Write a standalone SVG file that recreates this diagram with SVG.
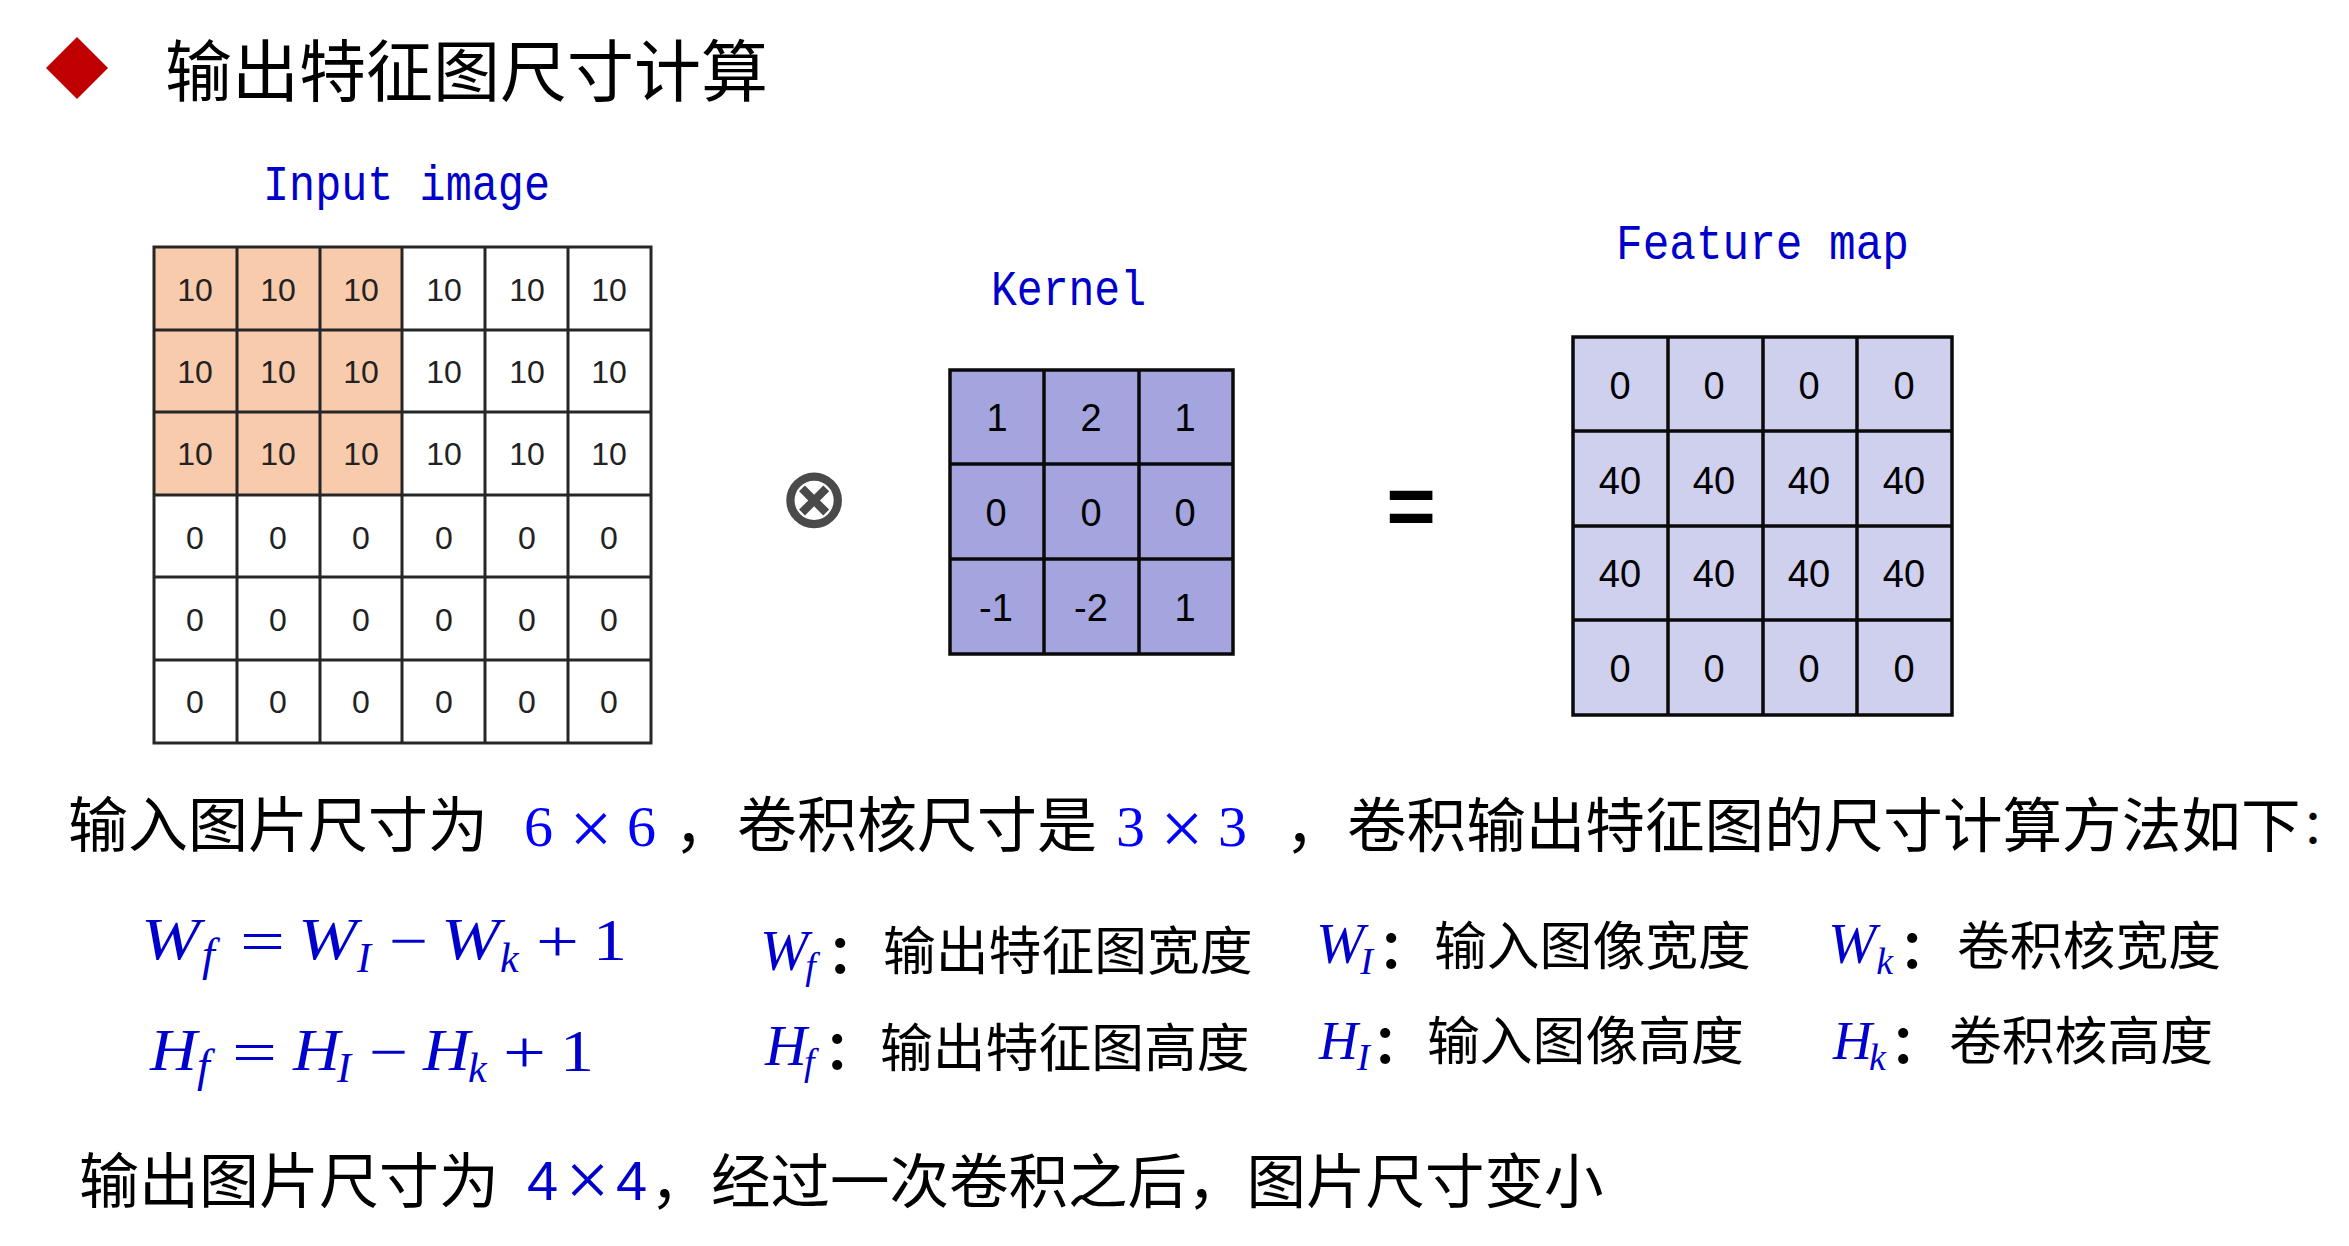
<svg xmlns="http://www.w3.org/2000/svg" width="2349" height="1246" viewBox="0 0 2349 1246">
<style>
text{font-family:"Liberation Sans",sans-serif}
.cjk{font-family:"Noto Sans CJK SC","Liberation Sans",sans-serif;fill:#000}
.t67{font-size:67px}.t60{font-size:60px}.t59{font-size:59.5px}.t52{font-size:52.8px}
.col{font-weight:700}
.lab{font-family:"Liberation Mono",monospace;font-size:50px;fill:#0000cc}
.m{font-family:"Liberation Serif",serif;font-style:italic;fill:#0000cc}
.mu{font-family:"Liberation Serif",serif;fill:#0000cc}
.b{font-size:60px}.s{font-size:42px}.sf{font-size:46px}.d{font-size:58px}.d2{font-size:54px}.ds{font-size:38px}
.num6{fill:#222;font-size:32px;text-anchor:middle}
.num{fill:#000;font-size:38px;text-anchor:middle}
.grid6{fill:none;stroke:#262626;stroke-width:3}
.grid{fill:none;stroke:#0a0a0a;stroke-width:3.5}
.blue6{font-family:"Liberation Serif",serif;font-size:58px;fill:#0000ff}
.blue6x{font-family:"Liberation Serif",serif;font-size:76px;fill:#0000ff}
.blue4{font-size:56px;fill:#0000cc}
.blue4x{font-family:"Liberation Serif",serif;font-size:78px;fill:#0000cc}
</style>
<rect width="2349" height="1246" fill="#fff"/>
<g id="title">
<polygon points="77,37 108,68 77,99 46,68" fill="#c00000"/>
<text class="cjk t67" x="165" y="96">输出特征图尺寸计算</text>
</g>
<g id="input-image">
<text class="lab" x="263" y="200" textLength="287" lengthAdjust="spacingAndGlyphs">Input image</text>
<rect x="154" y="247" width="248" height="248" fill="#f8cbad"/>
<path class="grid6" d="M154 247H651V743H154ZM154 330H651M154 412H651M154 495H651M154 577H651M154 660H651M237 247V743M320 247V743M402 247V743M485 247V743M568 247V743"/>
<text class="num6" x="195" y="301">10</text><text class="num6" x="278" y="301">10</text><text class="num6" x="361" y="301">10</text><text class="num6" x="444" y="301">10</text><text class="num6" x="527" y="301">10</text><text class="num6" x="609" y="301">10</text>
<text class="num6" x="195" y="383">10</text><text class="num6" x="278" y="383">10</text><text class="num6" x="361" y="383">10</text><text class="num6" x="444" y="383">10</text><text class="num6" x="527" y="383">10</text><text class="num6" x="609" y="383">10</text>
<text class="num6" x="195" y="465">10</text><text class="num6" x="278" y="465">10</text><text class="num6" x="361" y="465">10</text><text class="num6" x="444" y="465">10</text><text class="num6" x="527" y="465">10</text><text class="num6" x="609" y="465">10</text>
<text class="num6" x="195" y="549">0</text><text class="num6" x="278" y="549">0</text><text class="num6" x="361" y="549">0</text><text class="num6" x="444" y="549">0</text><text class="num6" x="527" y="549">0</text><text class="num6" x="609" y="549">0</text>
<text class="num6" x="195" y="631">0</text><text class="num6" x="278" y="631">0</text><text class="num6" x="361" y="631">0</text><text class="num6" x="444" y="631">0</text><text class="num6" x="527" y="631">0</text><text class="num6" x="609" y="631">0</text>
<text class="num6" x="195" y="713">0</text><text class="num6" x="278" y="713">0</text><text class="num6" x="361" y="713">0</text><text class="num6" x="444" y="713">0</text><text class="num6" x="527" y="713">0</text><text class="num6" x="609" y="713">0</text>
</g>
<g id="otimes">
<text x="814" y="527" text-anchor="middle" style="font-family:'DejaVu Sans',sans-serif;font-size:85px;font-weight:700;fill:#4a4a4a">⊗</text>
</g>
<g id="kernel">
<text class="lab" x="991" y="305" textLength="155" lengthAdjust="spacingAndGlyphs">Kernel</text>
<rect x="950" y="370" width="283" height="284" fill="#a4a4de"/>
<path class="grid" d="M950 370H1233V654H950ZM950 464H1233M950 559H1233M1044 370V654M1139 370V654"/>
<text class="num" x="997" y="431">1</text><text class="num" x="1091" y="431">2</text><text class="num" x="1185" y="431">1</text>
<text class="num" x="996" y="526">0</text><text class="num" x="1091" y="526">0</text><text class="num" x="1185" y="526">0</text>
<text class="num" x="996" y="621">-1</text><text class="num" x="1091" y="621">-2</text><text class="num" x="1185" y="621">1</text>
</g>
<g id="equals">
<text x="1411" y="535" text-anchor="middle" style="font-size:85px;font-weight:700;fill:#000">=</text>
</g>
<g id="feature-map">
<text class="lab" x="1616" y="259" textLength="293" lengthAdjust="spacingAndGlyphs">Feature map</text>
<rect x="1573" y="337" width="379" height="378" fill="#cfcfee"/>
<path class="grid" d="M1573 337H1952V715H1573ZM1573 431H1952M1573 526H1952M1573 620H1952M1668 337V715M1763 337V715M1857 337V715"/>
<text class="num" x="1620" y="399">0</text><text class="num" x="1714" y="399">0</text><text class="num" x="1809" y="399">0</text><text class="num" x="1904" y="399">0</text>
<text class="num" x="1620" y="494">40</text><text class="num" x="1714" y="494">40</text><text class="num" x="1809" y="494">40</text><text class="num" x="1904" y="494">40</text>
<text class="num" x="1620" y="587">40</text><text class="num" x="1714" y="587">40</text><text class="num" x="1809" y="587">40</text><text class="num" x="1904" y="587">40</text>
<text class="num" x="1620" y="682">0</text><text class="num" x="1714" y="682">0</text><text class="num" x="1809" y="682">0</text><text class="num" x="1904" y="682">0</text>
</g>
<g id="sentence">
<text class="cjk t60" x="68" y="847">输入图片尺寸为</text>
<text class="blue6" x="524" y="846">6</text><text class="blue6x" x="569.5" y="854">×</text><text class="blue6" x="627" y="846">6</text>
<text class="cjk t60" x="674" y="847">，</text>
<text class="cjk t60" x="737" y="847">卷积核尺寸是</text>
<text class="blue6" x="1116" y="846">3</text><text class="blue6x" x="1160.5" y="854">×</text><text class="blue6" x="1218" y="846">3</text>
<text class="cjk t60" x="1285" y="847">，</text>
<text class="cjk" style="font-size:59.6px" x="1347" y="847">卷积输出特征图的尺寸计算方法如下</text>
<text class="cjk" style="font-size:48px" x="2301" y="843">：</text>
</g>
<g id="formula-w">
<text class="m b" x="141" y="959" textLength="59" lengthAdjust="spacingAndGlyphs">W</text><text class="m sf" x="202" y="970">f</text>
<text class="mu b" x="240" y="961" textLength="45" lengthAdjust="spacingAndGlyphs">=</text>
<text class="m b" x="298" y="959" textLength="59" lengthAdjust="spacingAndGlyphs">W</text><text class="m s" x="357" y="972">I</text>
<text class="mu b" x="389" y="961" textLength="39" lengthAdjust="spacingAndGlyphs">−</text>
<text class="m b" x="441" y="959" textLength="59" lengthAdjust="spacingAndGlyphs">W</text><text class="m s" x="500" y="972">k</text>
<text class="mu b" x="536" y="961" textLength="43" lengthAdjust="spacingAndGlyphs">+</text>
<text class="mu b" x="593" y="960" textLength="34" lengthAdjust="spacingAndGlyphs">1</text>
</g>
<g id="formula-h">
<text class="m b" x="150" y="1070" textLength="47" lengthAdjust="spacingAndGlyphs">H</text><text class="m sf" x="197" y="1081">f</text>
<text class="mu b" x="232" y="1072" textLength="45" lengthAdjust="spacingAndGlyphs">=</text>
<text class="m b" x="293" y="1070" textLength="47" lengthAdjust="spacingAndGlyphs">H</text><text class="m s" x="337" y="1082">I</text>
<text class="mu b" x="369" y="1072" textLength="39" lengthAdjust="spacingAndGlyphs">−</text>
<text class="m b" x="423" y="1070" textLength="47" lengthAdjust="spacingAndGlyphs">H</text><text class="m s" x="468" y="1082">k</text>
<text class="mu b" x="503" y="1072" textLength="43" lengthAdjust="spacingAndGlyphs">+</text>
<text class="mu b" x="560" y="1071" textLength="34" lengthAdjust="spacingAndGlyphs">1</text>
</g>
<g id="legend-wf"><text class="m d" x="760" y="970">W<tspan class="ds" dx="-3" dy="9">f</tspan></text><text class="cjk t52 col" x="827" y="973">：</text><text class="cjk t52" x="883" y="970">输出特征图宽度</text></g>
<g id="legend-hf"><text class="m d" x="765" y="1065">H<tspan class="ds" dx="-3" dy="10">f</tspan></text><text class="cjk t52 col" x="824" y="1069">：</text><text class="cjk t52" x="880" y="1067">输出特征图高度</text></g>
<g id="legend-wi"><text class="m d" x="1316" y="963">W<tspan class="ds" dx="-4" dy="11">I</tspan></text><text class="cjk t52 col" x="1378" y="968">：</text><text class="cjk t52" x="1434" y="965">输入图像宽度</text></g>
<g id="legend-hi"><text class="m d2" x="1319" y="1059">H<tspan class="ds" dx="-1" dy="11">I</tspan></text><text class="cjk t52 col" x="1372" y="1063">：</text><text class="cjk t52" x="1427" y="1060">输入图像高度</text></g>
<g id="legend-wk"><text class="m d" x="1828" y="963">W<tspan class="ds" dx="0" dy="11">k</tspan></text><text class="cjk t52 col" x="1899" y="968">：</text><text class="cjk t52" x="1957" y="965">卷积核宽度</text></g>
<g id="legend-hk"><text class="m d2" x="1833" y="1059">H<tspan class="ds" dx="-3" dy="11">k</tspan></text><text class="cjk t52 col" x="1890" y="1063">：</text><text class="cjk t52" x="1949" y="1060">卷积核高度</text></g>
<g id="conclusion">
<text class="cjk t60" x="79" y="1203">输出图片尺寸为</text>
<text class="blue4" x="527" y="1200">4</text><text class="blue4x" x="565.5" y="1206">×</text><text class="blue4" x="616" y="1200">4</text>
<text class="cjk t59" x="650" y="1203">，</text>
<text class="cjk t59" x="711" y="1203">经过一次卷积之后，图片尺寸变小</text>
</g>
</svg>
